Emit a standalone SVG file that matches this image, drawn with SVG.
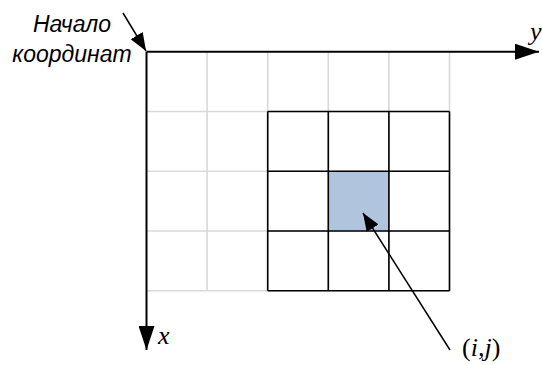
<svg xmlns="http://www.w3.org/2000/svg" width="542" height="365" viewBox="0 0 542 365">
<style>
.light{stroke:#d9d9d9;stroke-width:1.6;fill:none}
.dark{stroke:#000;stroke-width:1.6;fill:none}
.axis{stroke:#000;stroke-width:2;fill:none}
.ptr{stroke:#000;stroke-width:1.5;fill:none}
.lbl{font-family:"Liberation Sans",Arial,sans-serif;font-style:italic;font-size:23px;fill:#000}
.var{font-family:"Liberation Serif","Times New Roman",serif;font-style:italic;font-size:26px;fill:#000}
</style>
<defs>
<marker id="bigArrow" markerUnits="userSpaceOnUse" markerWidth="24" markerHeight="16" refX="24" refY="8" orient="auto">
<path d="M0,0 L24,8 L0,16 Z" fill="#000"/>
</marker>
<marker id="smallArrow" markerUnits="userSpaceOnUse" markerWidth="18" markerHeight="14" refX="18" refY="7" orient="auto">
<path d="M0,0 L18,7 L0,14 Z" fill="#000"/>
</marker>
</defs>
<g id="grid-light">
<path class="light" d="M207.1,51.7V290.7M267.7,51.7V290.7M328.3,51.7V290.7M388.9,51.7V290.7M449.5,51.7V290.7M146.5,111.45H449.5M146.5,171.2H449.5M146.5,230.95H449.5M146.5,290.7H449.5"/>
</g>
<g id="cell-ij">
<rect x="328.3" y="171.2" width="60.6" height="59.75" fill="#b0c4de"/>
</g>
<g id="grid-dark">
<path class="dark" d="M267.7,111.45V290.7M328.3,111.45V290.7M388.9,111.45V290.7M449.5,111.45V290.7M267.7,111.45H449.5M267.7,171.2H449.5M267.7,230.95H449.5M267.7,290.7H449.5"/>
</g>
<g id="connectors">
<line class="axis" x1="146.5" y1="51.7" x2="539" y2="51.7" marker-end="url(#bigArrow)"/>
<line class="axis" x1="146.5" y1="51.7" x2="146.5" y2="350" marker-end="url(#bigArrow)"/>
<line class="ptr" x1="123" y1="13" x2="146" y2="51" marker-end="url(#smallArrow)"/>
<line class="ptr" x1="450" y1="350" x2="363" y2="213" marker-end="url(#smallArrow)"/>
</g>
<g id="label-origin">
<text class="lbl" x="72" y="32" text-anchor="middle">Начало</text>
<text class="lbl" x="72" y="62" text-anchor="middle">координат</text>
</g>
<g id="label-y"><text class="var" x="530" y="40">y</text></g>
<g id="label-x"><text class="var" x="158" y="344">x</text></g>
<g id="label-ij"><text class="var" x="462" y="356" font-size="29"><tspan font-style="normal">(</tspan>i,j<tspan font-style="normal">)</tspan></text></g>
</svg>
